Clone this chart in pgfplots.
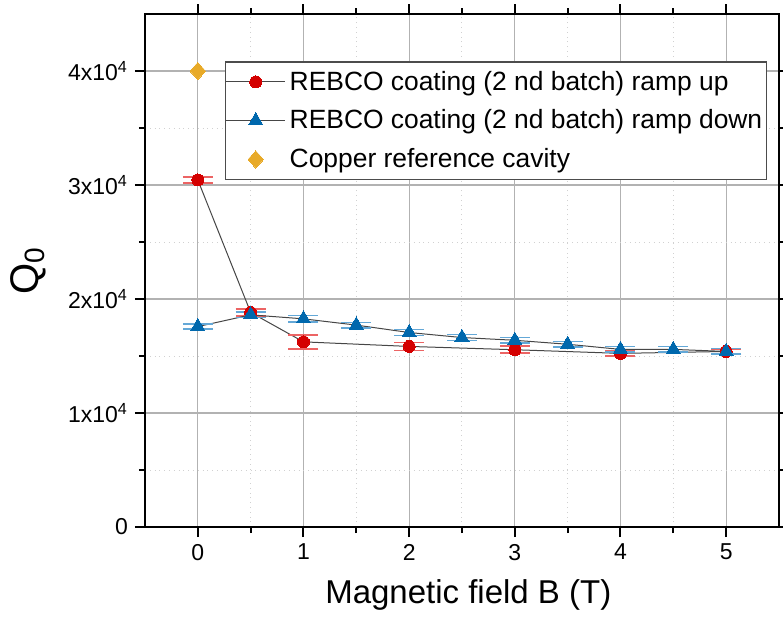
\documentclass[border=0pt]{standalone}
\usepackage{fontspec}
\setmainfont{Liberation Sans}
\usepackage{pgfplots}
\usepackage{pgfplotstable}
\pgfplotsset{compat=1.18}
\definecolor{cred}{RGB}{212,0,0}
\definecolor{cblue}{RGB}{0,104,173}
\definecolor{corange}{RGB}{232,170,40}
\definecolor{ered}{RGB}{236,100,100}
\definecolor{eblue}{RGB}{100,168,215}
\definecolor{cline}{RGB}{70,70,70}

\pgfplotstableread{
x y e
0 30440 270
0.5 18820 300
1 16240 600
2 15840 360
3 15550 310
4 15230 230
5 15400 220
}\rampup

\pgfplotstableread{
x y e
0 17580 220
0.5 18610 230
1 18260 280
1.5 17710 230
2 17060 250
2.5 16620 260
3 16380 260
3.5 16030 250
4 15580 250
4.5 15580 250
5 15400 250
}\rampdown

\pgfplotstableread{
x y
0 40000
}\copper

\begin{document}
\begin{tikzpicture}
\begin{axis}[
  at={(0,0)}, anchor=south west,
  scale only axis, width=317pt, height=256.5pt,
  xmin=-0.5, xmax=5.5, ymin=0, ymax=45000,
  xtick={0,1,2,3,4,5},
  minor xtick={0.5,1.5,2.5,3.5,4.5},
  ytick={0,10000,20000,30000,40000},
  yticklabels={0,1x10\textsuperscript{4},2x10\textsuperscript{4},3x10\textsuperscript{4},4x10\textsuperscript{4}},
  minor ytick={5000,15000,25000,35000},
  scaled y ticks=false,
  /pgf/number format/assume math mode=true,
  tick align=outside,
  xtick pos=both, ytick pos=both,
  xticklabel pos=lower, yticklabel pos=left,
  major tick length=5pt, minor tick length=3pt,
  every tick/.style={black, line width=1pt},
  grid=both,
  major grid style={draw=black!30, line width=0.6pt},
  minor grid style={draw=black!18, dotted, line width=0.5pt},
  axis line style={line width=1.2pt},
  tick label style={font=\fontsize{11.5}{13}\selectfont},
  xlabel={Magnetic field B (T)},
  ylabel={Q\textsubscript{0}},
  xlabel style={font=\fontsize{16.5}{19}\selectfont, at={(axis description cs:0.51,-0.1325)}, anchor=center},
  ylabel style={font=\fontsize{20}{23}\selectfont, at={(axis description cs:-0.184,0.5)}, anchor=center},
  legend style={at={(0.981,0.908)}, anchor=north east, draw=black!70, line width=0.7pt,
    font=\fontsize{13.2}{15.5}\selectfont, row sep=4.3pt, inner xsep=0pt, inner ysep=2.5pt},
  legend cell align=left,
  legend image code/.code={%
    \draw[mark repeat=2,mark phase=2,#1] plot coordinates {(0pt,0pt) (14.75pt,0pt) (29.5pt,0pt)};},
]
\addplot[color=cline, line width=0.5pt, mark=*, mark size=3pt,
  mark options={draw=cred, fill=cred, line width=0pt},
  error bars/.cd, y dir=both, y explicit,
  error bar style={draw=ered, line width=0.8pt},
  error mark=|, error mark options={mark size=7.5pt, draw=ered, line width=0.8pt}]
  table[x=x, y=y, y error=e] {\rampup};
\addlegendentry{REBCO coating (2 nd batch) ramp up}

\addplot[color=cline, line width=0.5pt, mark=triangle*, mark size=4.1pt,
  mark options={draw=cblue, fill=cblue, line width=0pt},
  error bars/.cd, y dir=both, y explicit,
  error bar style={draw=eblue, line width=0.8pt},
  error mark=|, error mark options={mark size=7.5pt, draw=eblue, line width=0.8pt}]
  table[x=x, y=y, y error=e] {\rampdown};
\addlegendentry{REBCO coating (2 nd batch) ramp down}

\addplot[only marks, mark=diamond*, mark size=4.3pt,
  mark options={draw=corange, fill=corange, line width=0pt, xscale=1.2}]
  table[x=x, y=y] {\copper};
\addlegendentry{Copper reference cavity}
\end{axis}
\pgfresetboundingbox
\path[use as bounding box] (-72.5pt,-45.5pt) rectangle (319pt,263.5pt);
\end{tikzpicture}
\end{document}
